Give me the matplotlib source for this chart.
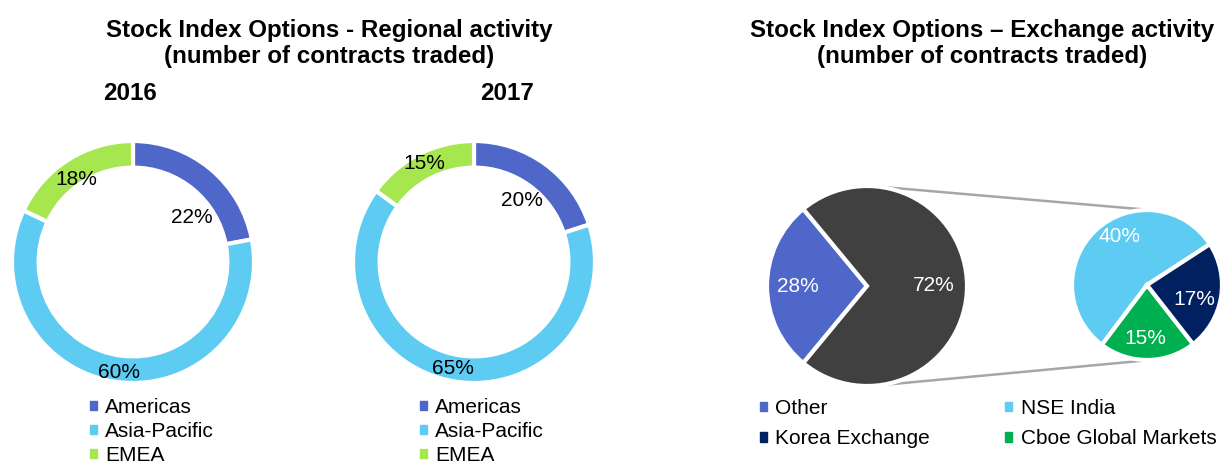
import numpy as np
import matplotlib.pyplot as plt
from matplotlib.patches import Patch

plt.rcParams['font.family'] = ['Liberation Sans', 'DejaVu Sans']

# data
regions = ["Americas", "Asia-Pacific", "EMEA"]
share_2016 = [22, 60, 18]
share_2017 = [20, 65, 15]
region_colors = ["#4F67C8", "#5DCBF2", "#A6E64F"]

main_labels = ["Other", "Top exchanges"]
main_share = [28, 72]
main_colors = ["#4F67C8", "#404040"]

exch_labels = ["NSE India", "Cboe Global Markets", "Korea Exchange"]
exch_share = [40, 15, 17]
exch_colors = ["#5DCBF2", "#00B050", "#002060"]

W, H = 1222, 462
fig = plt.figure(figsize=(W / 100, H / 100), dpi=100)
ax = fig.add_axes([0, 0, 1, 1])


def put_labels(wedges, values, cen, rad, label_r, shift, color):
    # percentage text placed along each wedge's middle angle
    for w, v, lr, sh in zip(wedges, values, label_r, shift):
        a = np.deg2rad((w.theta1 + w.theta2) / 2 + sh)
        ax.text(cen[0] + lr * rad * np.cos(a), cen[1] + lr * rad * np.sin(a), f"{v}%",
                ha="center", va="center", fontsize=15, color=color)


def draw_donut(cx, cy, values, label_r, shift):
    r = 121
    cen = (cx, H - cy)
    wedges, _ = ax.pie(values, colors=region_colors, startangle=90, counterclock=False,
                       radius=r, center=cen,
                       wedgeprops=dict(width=0.22 * r, edgecolor="white", linewidth=3))
    put_labels(wedges, values, cen, r, label_r, shift, "black")


draw_donut(133, 262, share_2016, [0.61, 0.92, 0.83], [-13, 0, 2])
draw_donut(474, 262, share_2017, [0.65, 0.9, 0.91], [-2, -2, 0])

# pie of pie
c1, r1 = (867, H - 286), 100
c2, r2 = (1147, H - 285), 75
w1, _ = ax.pie(main_share, colors=main_colors, startangle=180 - main_share[0] * 1.8,
               radius=r1, center=c1, wedgeprops=dict(edgecolor="white", linewidth=3))
w2, _ = ax.pie(exch_share, colors=exch_colors, startangle=33,
               radius=r2, center=c2, wedgeprops=dict(edgecolor="white", linewidth=3))
put_labels(w1, main_share, c1, r1, [0.69, 0.67], [0, 0], "white")
put_labels(w2, exch_share, c2, r2, [0.74, 0.71, 0.66], [-13, -2, -8], "white")

# connector lines (outer tangents)
d = np.hypot(c2[0] - c1[0], c2[1] - c1[1])
base = np.arctan2(c2[1] - c1[1], c2[0] - c1[0])
th = np.arccos((r1 - r2) / d)
for s in (1, -1):
    a = base + s * th
    ax.plot([c1[0] + r1 * np.cos(a), c2[0] + r2 * np.cos(a)],
            [c1[1] + r1 * np.sin(a), c2[1] + r2 * np.sin(a)],
            color="#A6A6A6", lw=1.8, zorder=0)

# titles
tkw = dict(ha="center", va="baseline", fontsize=17.4, fontweight="bold")
ax.text(329, H - 37, "Stock Index Options - Regional activity", **tkw)
ax.text(329, H - 63, "(number of contracts traded)", **tkw)
ax.text(982, H - 37, "Stock Index Options \u2013 Exchange activity", **tkw)
ax.text(982, H - 63, "(number of contracts traded)", **tkw)
ax.text(130, H - 100, "2016", **tkw)
ax.text(507, H - 100, "2017", **tkw)

# legends
leg_kw = dict(loc="upper left", frameon=False, fontsize=15, handlelength=0.32,
              handleheight=0.32, handletextpad=0.42, borderpad=0, borderaxespad=0)
reg_handles = [Patch(color=c, label=l) for c, l in zip(region_colors, regions)]
for x in (90, 420):
    leg = ax.legend(handles=reg_handles, bbox_to_anchor=(x / W, 1 - 398 / H),
                    labelspacing=0.24, **leg_kw)
    ax.add_artist(leg)

ex_handles = [Patch(color=main_colors[0], label="Other"),
              Patch(color=exch_colors[2], label=exch_labels[2]),
              Patch(color=exch_colors[0], label=exch_labels[0]),
              Patch(color=exch_colors[1], label=exch_labels[1])]
ax.legend(handles=ex_handles, bbox_to_anchor=(760 / W, 1 - 399 / H), ncol=2,
          labelspacing=0.55, columnspacing=3.6, **leg_kw)

ax.set_xlim(0, W)
ax.set_ylim(0, H)
ax.set_aspect("auto")
ax.axis("off")

fig.savefig("out.png", dpi=100)
